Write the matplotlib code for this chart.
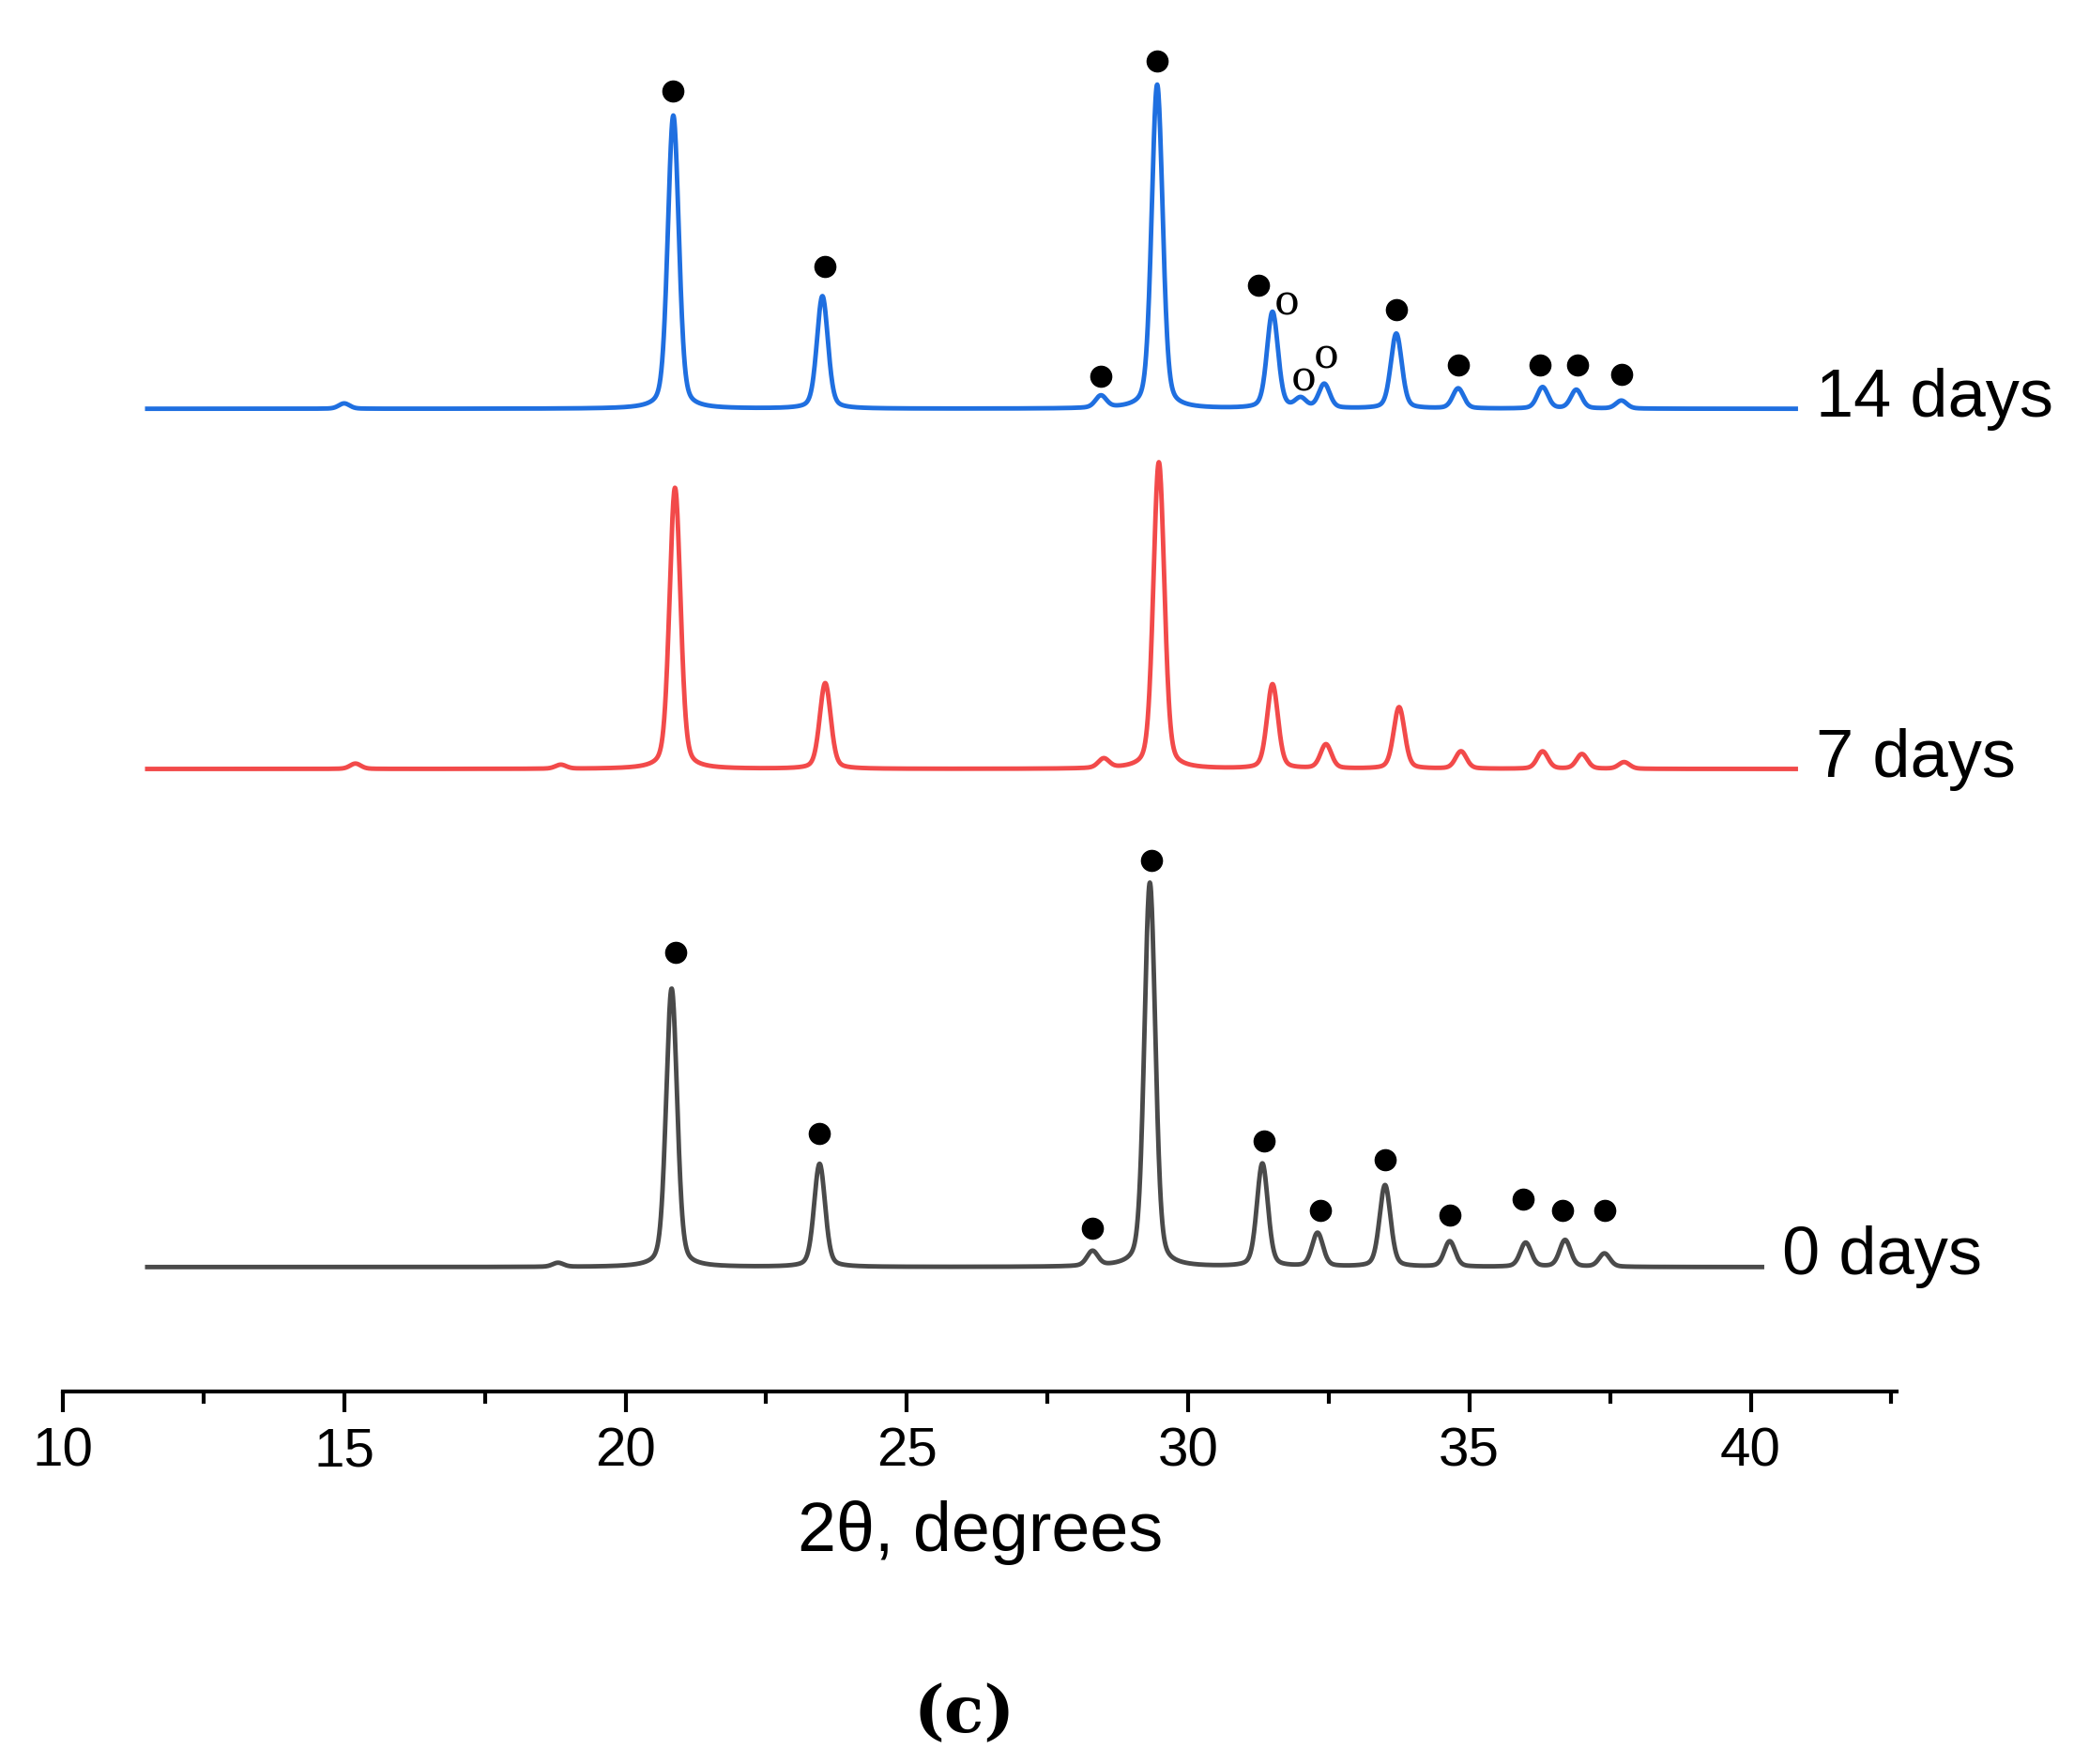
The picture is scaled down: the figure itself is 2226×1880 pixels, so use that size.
import numpy as np
import matplotlib.pyplot as plt

plt.rcParams['font.family'] = ['Liberation Sans', 'DejaVu Sans']

# peak lists: position (deg), height (px above baseline), width (deg, sigma)
pos_14 = [15.0, 20.85, 23.5, 28.45, 29.45, 31.5, 32.0, 32.42, 33.7, 34.8, 36.3, 36.9, 37.7]
hgt_14 = [4, 219, 84, 9, 242, 72, 7, 18, 56, 15, 16, 14, 6]
pos_7 = [15.2, 18.85, 20.88, 23.55, 28.5, 29.48, 31.5, 32.45, 33.75, 34.85, 36.3, 37.0, 37.75]
hgt_7 = [4, 3, 210, 64, 7, 229, 63, 18, 46, 13, 13, 11, 5]
pos_0 = [18.8, 20.82, 23.45, 28.3, 29.32, 31.32, 32.3, 33.5, 34.65, 36.0, 36.7, 37.4]
hgt_0 = [3, 208, 77, 11, 287, 77, 25, 61, 19, 18, 20, 10]
wid = 0.095

# baselines in image px (y grows downward)
base = {'14 days': 306, '7 days': 575, '0 days': 947}
colors = {'14 days': '#1f6fe0', '7 days': '#f24a4a', '0 days': '#4a4a4a'}
x_end = {'14 days': 40.8, '7 days': 40.8, '0 days': 40.2}

# filled-circle markers (deg, px)
dots_14 = [(20.85, 69), (23.55, 200), (28.45, 282), (29.45, 46), (31.25, 214), (33.7, 232),
           (34.8, 273), (36.25, 273), (36.92, 273), (37.7, 280)]
dots_0 = [(20.9, 712), (23.45, 847), (28.3, 918), (29.35, 643), (31.35, 853), (32.35, 905),
          (33.5, 867), (34.65, 908), (35.95, 896), (36.65, 905), (37.4, 905)]
open_14 = [(31.75, 226), (32.05, 283), (32.45, 266)]

fig = plt.figure(figsize=(22.26, 18.81), dpi=100)
ax = fig.add_axes([0.0301, 0.211, 0.878, 0.789])

def profile(x, pos, hgt):
    y = np.zeros_like(x)
    for p, h in zip(pos, hgt):
        g = np.exp(-0.5 * ((x - p) / wid) ** 2)
        l = 1 / (1 + ((x - p) / (wid * 1.4)) ** 2)
        y += h * (0.75 * g + 0.25 * l)
    return y

for name, pos, hgt in [('14 days', pos_14, hgt_14), ('7 days', pos_7, hgt_7), ('0 days', pos_0, hgt_0)]:
    x = np.linspace(11.5, x_end[name], 4000)
    ax.plot(x, base[name] - profile(x, pos, hgt), color=colors[name], lw=3.5)
    ax.text(x_end[name] + 0.35, base[name] - 8, name, fontsize=52, va='center', ha='left')

for dx, dy in dots_14 + dots_0:
    ax.plot(dx, dy, 'o', color='black', ms=16)
for dx, dy in open_14:
    ax.text(dx, dy, 'o', fontsize=32, family='DejaVu Serif', ha='center', va='center')

ax.set_xlim(10, 42.6)
ax.set_ylim(1040, 0)
for s in ['top', 'left', 'right']:
    ax.spines[s].set_visible(False)
ax.spines['bottom'].set_linewidth(3)
ax.set_yticks([])
ax.set_xticks(np.arange(10, 41, 5))
ax.set_xticks(np.arange(12.5, 42.6, 5), minor=True)
ax.tick_params(axis='x', which='major', length=16, width=3, labelsize=42, pad=10)
ax.tick_params(axis='x', which='minor', length=9, width=3)
ax.set_xlabel('2θ, degrees', fontsize=53, labelpad=18)
ax.patch.set_alpha(0)

fig.text(720 / 1560, 1 - 1280 / 1318, '(c)', fontsize=50, fontweight='bold',
         family='DejaVu Serif', ha='center', va='center')

fig.savefig('out.png', dpi=100)
